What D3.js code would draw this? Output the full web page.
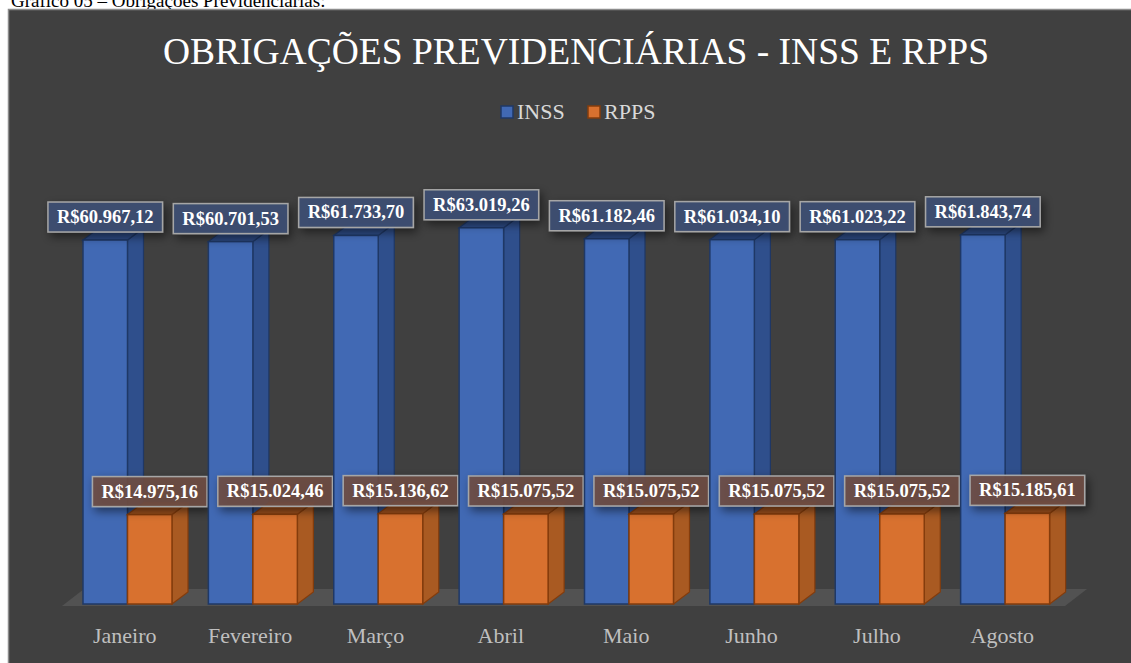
<!DOCTYPE html>
<html>
<head>
<meta charset="utf-8">
<script src="https://cdn.jsdelivr.net/npm/d3@7"></script>
<style>
  body { margin: 0; background: #fff; }
  svg { display: block; }
</style>
</head>
<body>
<script>
// chart data
var months = ["Janeiro", "Fevereiro", "Março", "Abril", "Maio", "Junho", "Julho", "Agosto"];
var series = ["INSS", "RPPS"];
var inss = [60967.12, 60701.53, 61733.70, 63019.26, 61182.46, 61034.10, 61023.22, 61843.74];
var rpps = [14975.16, 15024.46, 15136.62, 15075.52, 15075.52, 15075.52, 15075.52, 15185.61];

var width = 1131, height = 663;
var serif = "'Liberation Serif', 'Times New Roman', serif";

var colors = {
  INSS: {front: "#4169b4", side: "#2f4f8c", top: "#2d4b85", stroke: "#1f3866", box: "rgba(62,80,115,0.9)"},
  RPPS: {front: "#d8712f", side: "#a95a22", top: "#9a4e1c", stroke: "#843c0c", box: "rgba(110,78,68,0.9)"}
};

var rows = months.map(function(m, i) { return {month: m, INSS: inss[i], RPPS: rpps[i]}; });

var svg = d3.select("body").append("svg")
    .attr("width", width)
    .attr("height", height);

// drop shadow for the value labels
var defs = svg.append("defs");
defs.append("filter").attr("id", "shadow")
    .attr("x", "-30%").attr("y", "-50%").attr("width", "160%").attr("height", "220%")
  .append("feDropShadow")
    .attr("dx", 3).attr("dy", 4).attr("stdDeviation", 5)
    .attr("flood-color", "#000").attr("flood-opacity", 0.55);

// caption above the panel (cut at top in the source too)
svg.append("text")
    .attr("x", 11).attr("y", 7)
    .attr("font-family", serif).attr("font-size", 19)
    .attr("fill", "#000")
    .text("Gráfico 05 – Obrigações Previdenciárias:");

// dark panel
svg.append("rect")
    .attr("x", 8.5).attr("y", 9.5)
    .attr("width", width).attr("height", height)
    .attr("fill", "#404040")
    .attr("stroke", "#8c8c8c").attr("stroke-width", 1.5);

// title
svg.append("text")
    .attr("x", 576).attr("y", 64)
    .attr("text-anchor", "middle")
    .attr("font-family", serif).attr("font-size", 37.5)
    .attr("fill", "#ffffff")
    .text("OBRIGAÇÕES PREVIDENCIÁRIAS - INSS E RPPS");

// legend
var legend = svg.append("g").attr("transform", "translate(500,105)");
var leg = legend.selectAll("g").data(series).enter().append("g")
    .attr("transform", function(d, i) { return "translate(" + (i * 87) + ",0)"; });
leg.append("rect")
    .attr("x", 1).attr("y", 1).attr("width", 12).attr("height", 12)
    .attr("fill", function(d) { return colors[d].front; })
    .attr("stroke", function(d) { return colors[d].stroke; }).attr("stroke-width", 1.5);
leg.append("text")
    .attr("x", 17).attr("y", 14)
    .attr("font-family", serif).attr("font-size", 22)
    .attr("fill", "#d9d9d9")
    .text(function(d) { return d; });

// scales
var x = d3.scaleBand().domain(months).range([62, 1065]);
var xs = d3.scaleBand().domain(series).range([21, 110]);
var y = d3.scaleLinear().domain([0, 70000]).range([604, 604 - 70000 * 0.00597]);

var dx = 16, dy = -12;

// floor
var fx0 = x.range()[0], fx1 = x.range()[1];
svg.append("path")
    .attr("d", "M" + fx0 + "," + (y(0) + 2) + "L" + fx1 + "," + (y(0) + 2) +
               "L" + (fx1 + 22) + "," + (y(0) - 15) + "L" + (fx0 + 22) + "," + (y(0) - 15) + "Z")
    .attr("fill", "#525252");

// 3D bars
var groups = svg.append("g").selectAll("g").data(rows).enter().append("g")
    .attr("transform", function(d) { return "translate(" + x(d.month) + ",0)"; });

series.forEach(function(s) {
  var bw = xs.bandwidth();
  var bar = groups.append("g").attr("class", "bar-" + s);
  var x0 = xs(s);
  // side face
  bar.append("path")
      .attr("d", function(d) {
        var t = y(d[s]), b = y(0);
        return "M" + (x0 + bw) + "," + b + "L" + (x0 + bw + dx) + "," + (b + dy) +
               "L" + (x0 + bw + dx) + "," + (t + dy) + "L" + (x0 + bw) + "," + t + "Z";
      })
      .attr("fill", colors[s].side).attr("stroke", colors[s].stroke).attr("stroke-width", 1.2);
  // top face
  bar.append("path")
      .attr("d", function(d) {
        var t = y(d[s]);
        return "M" + x0 + "," + t + "L" + (x0 + dx) + "," + (t + dy) +
               "L" + (x0 + bw + dx) + "," + (t + dy) + "L" + (x0 + bw) + "," + t + "Z";
      })
      .attr("fill", colors[s].top).attr("stroke", colors[s].stroke).attr("stroke-width", 1.2);
  // front face
  bar.append("rect")
      .attr("x", x0)
      .attr("y", function(d) { return y(d[s]); })
      .attr("width", bw)
      .attr("height", function(d) { return y(0) - y(d[s]); })
      .attr("fill", colors[s].front).attr("stroke", colors[s].stroke).attr("stroke-width", 1.5);
});

// value labels
var fmt = function(v) {
  var parts = v.toFixed(2).split(".");
  return "R$" + parts[0].replace(/\B(?=(\d{3})+(?!\d))/g, ".") + "," + parts[1];
};

series.forEach(function(s) {
  var lab = groups.append("g")
      .attr("transform", function(d) {
        return "translate(" + (xs(s) + xs.bandwidth() / 2) + "," + (y(d[s]) - 8) + ")";
      });
  lab.append("text")
      .attr("x", 0).attr("y", -9)
      .attr("text-anchor", "middle")
      .attr("font-family", serif).attr("font-size", 18.5).attr("font-weight", "bold")
      .attr("fill", "#ffffff")
      .text(function(d) { return fmt(d[s]); });
  lab.insert("rect", "text")
      .each(function() {
        var w = this.parentNode.querySelector("text").getComputedTextLength() + 18;
        d3.select(this).attr("x", -w / 2).attr("width", w);
      })
      .attr("y", -30).attr("height", 30)
      .attr("fill", colors[s].box)
      .attr("stroke", "#a6a6a6").attr("stroke-width", 1.5)
      .attr("filter", "url(#shadow)");
});

// category labels
svg.append("g").selectAll("text").data(months).enter().append("text")
    .attr("x", function(d) { return x(d) + x.bandwidth() / 2; })
    .attr("y", 643)
    .attr("text-anchor", "middle")
    .attr("font-family", serif).attr("font-size", 22)
    .attr("fill", "#bfbfbf")
    .text(function(d) { return d; });
</script>
</body>
</html>
